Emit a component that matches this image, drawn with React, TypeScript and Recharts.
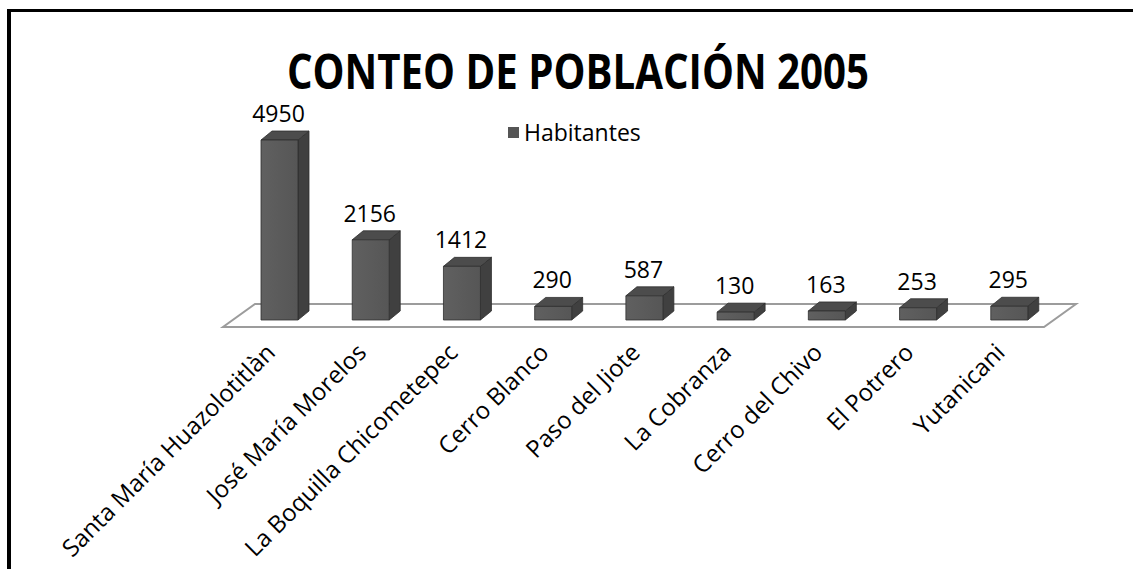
import { BarChart, Bar, XAxis, YAxis, LabelList, Legend } from 'recharts'

const localidades = [
  'Santa María Huazolotitlàn',
  'José María Morelos',
  'La Boquilla Chicometepec',
  'Cerro Blanco',
  'Paso del Jiote',
  'La Cobranza',
  'Cerro del Chivo',
  'El Potrero',
  'Yutanicani',
]
const habitantes = [4950, 2156, 1412, 290, 587, 130, 163, 253, 295]
const serieNombre = 'Habitantes'
const titulo = 'CONTEO DE POBLACIÓN 2005'

const data = localidades.map((nombre, i) => ({ nombre, habitantes: habitantes[i] }))

const W = 1133
const H = 569
const X_AXIS_H = 200
const margin = { top: 120, right: 78, bottom: 49, left: 234 }
const plotLeft = margin.left
const plotRight = W - margin.right
const plotBottom = H - margin.bottom - X_AXIS_H

// profundidad del efecto 3D
const DX = 11
const DY = -9
const FONT = "'Open Sans', 'DejaVu Sans', sans-serif"

function Bar3D(props: any) {
  const { x, y, width, background } = props
  const bottom = background && background.height ? background.y + background.height : y + props.height
  const r = x + width
  return (
    <g stroke="#2f2f2f" strokeWidth={0.8} strokeLinejoin="round">
      <polygon
        points={`${r},${y} ${r + DX},${y + DY} ${r + DX},${bottom + DY} ${r},${bottom}`}
        fill="#404040"
      />
      <polygon
        points={`${x},${y} ${x + DX},${y + DY} ${r + DX},${y + DY} ${r},${y}`}
        fill="#4c4c4c"
      />
      <rect x={x} y={y} width={width} height={bottom - y} fill="url(#frente)" />
    </g>
  )
}

function ValueLabel(props: any) {
  const { x, y, width, value } = props
  return (
    <text x={x + width / 2 - 1} y={y - 18} textAnchor="middle" fontFamily={FONT} fontSize={23} fill="#000">
      {value}
    </text>
  )
}

function Tick({ x, y, payload }: any) {
  const tx = x - 3
  const ty = y + 26
  return (
    <text
      x={tx}
      y={ty}
      transform={`rotate(-45, ${tx}, ${ty})`}
      textAnchor="end"
      fontFamily={FONT}
      fontSize={24}
      fill="#000"
    >
      {payload.value}
    </text>
  )
}

function LegendContent({ payload }: any) {
  return (
    <div style={{ display: 'flex', alignItems: 'center', fontFamily: FONT, fontSize: 23, color: '#000' }}>
      {(payload || []).map((p: any) => (
        <span key={p.value} style={{ display: 'flex', alignItems: 'center' }}>
          <span style={{ width: 11, height: 11, background: '#555', marginRight: 5, display: 'inline-block' }} />
          {p.value}
        </span>
      ))}
    </div>
  )
}

function Fondo() {
  // piso del gráfico y título
  const front = plotBottom + 7
  const back = plotBottom - 16
  return (
    <svg width={W} height={H} style={{ position: 'absolute', left: 0, top: 0 }}>
      <defs>
        <linearGradient id="frente" x1="0" y1="0" x2="1" y2="0">
          <stop offset="0%" stopColor="#606060" />
          <stop offset="100%" stopColor="#565656" />
        </linearGradient>
      </defs>
      <polygon
        points={`${plotLeft - 11},${front} ${plotRight - 11},${front} ${plotRight + 21},${back} ${plotLeft + 21},${back}`}
        fill="#fff"
        stroke="#9c9c9c"
        strokeWidth={2}
      />
      <text
        x={578}
        y={89}
        textAnchor="middle"
        fontFamily={FONT}
        fontWeight={700}
        fontSize={48}
        textLength={582}
        lengthAdjust="spacingAndGlyphs"
        fill="#000"
      >
        {titulo}
      </text>
    </svg>
  )
}

export default function App() {
  return (
    <div style={{ position: 'fixed', left: 0, top: 0, width: W, height: H, overflow: 'hidden', background: '#fff' }}>
      <div
        style={{
          position: 'absolute',
          left: 7,
          top: 9,
          width: 1300,
          height: 800,
          borderTop: '3px solid #000',
          borderLeft: '4px solid #000',
        }}
      />
      <Fondo />
      <div style={{ position: 'absolute', left: 0, top: 0 }}>
        <BarChart width={W} height={H} data={data} margin={margin}>
          <XAxis
            dataKey="nombre"
            height={X_AXIS_H}
            axisLine={false}
            tickLine={false}
            interval={0}
            tick={<Tick />}
          />
          <YAxis hide domain={[-90, 5510]} />
          <Legend
            layout="vertical"
            align="center"
            verticalAlign="middle"
            content={<LegendContent />}
            wrapperStyle={{ top: 116, left: 508, width: 'auto' }}
          />
          <Bar
            dataKey="habitantes"
            name={serieNombre}
            barSize={37}
            shape={<Bar3D />}
            isAnimationActive={false}
          >
            <LabelList dataKey="habitantes" content={<ValueLabel />} />
          </Bar>
        </BarChart>
      </div>
    </div>
  )
}
